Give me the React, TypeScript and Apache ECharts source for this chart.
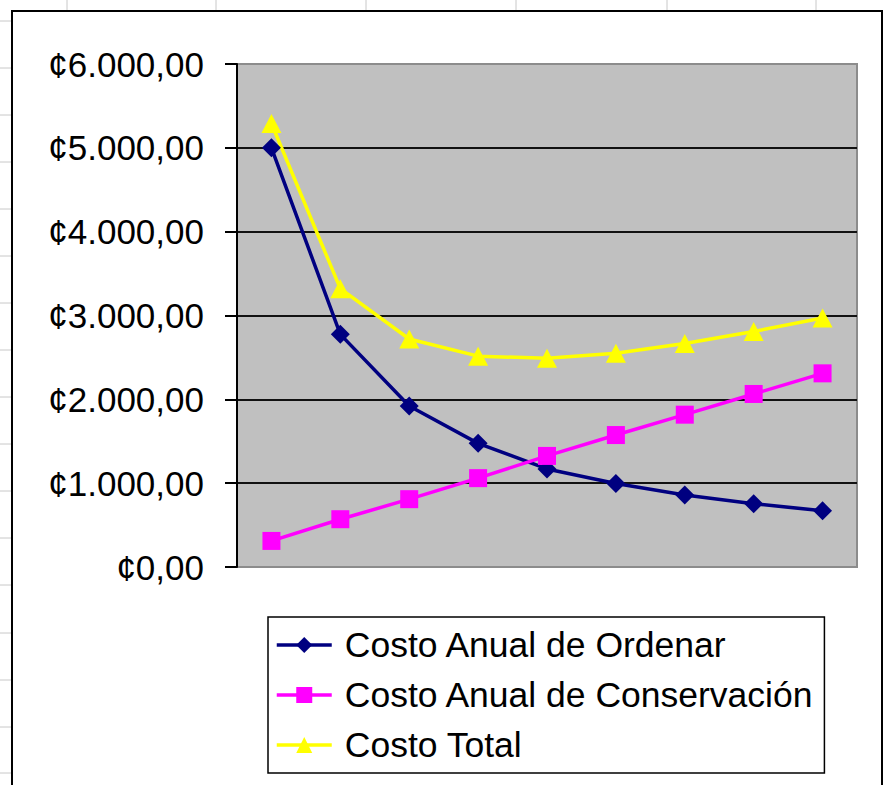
import React, { useEffect, useRef } from "react";
import * as echarts from "echarts";

const categories = ["1", "2", "3", "4", "5", "6", "7", "8", "9"];
const costoOrdenar = [5000, 2775, 1920, 1475, 1170, 995, 860, 755, 670];
const costoConservacion = [311, 570, 809, 1060, 1325, 1574, 1817, 2064, 2310];
const costoTotal = [5290, 3320, 2720, 2515, 2490, 2550, 2665, 2810, 2970];
const seriesNames = [
  "Costo Anual de Ordenar",
  "Costo Anual de Conservación",
  "Costo Total",
];
const yMin = 0;
const yMax = 6000;
const yInterval = 1000;

// decorative spreadsheet grid outside the chart object
const sheetColumnLines = [67, 216, 366, 516, 667, 816];
const sheetRowLines = [21, 68, 115, 162, 209, 256, 303, 350, 397, 444, 491, 538, 585, 633, 680, 727, 773];

const FONT = '"Liberation Sans", Arial, sans-serif';

function formatColones(v: number): string {
  const intPart = Math.round(v).toString().replace(/\B(?=(\d{3})+(?!\d))/g, ".");
  return "¢" + intPart + ",00";
}

export default function App() {
  const ref = useRef<HTMLDivElement>(null);

  useEffect(() => {
    if (!ref.current) return;
    const chart = echarts.init(ref.current, null, { renderer: "svg" });

    const graphics: any[] = [];
    sheetColumnLines.forEach((x) =>
      graphics.push({
        type: "line",
        shape: { x1: x, y1: 0, x2: x, y2: 10 },
        style: { stroke: "#c8c8c8", lineWidth: 1 },
        silent: true,
      })
    );
    sheetRowLines.forEach((y) =>
      graphics.push({
        type: "line",
        shape: { x1: 0, y1: y, x2: 11, y2: y },
        style: { stroke: "#c8c8c8", lineWidth: 1 },
        silent: true,
      })
    );
    graphics.push({
      type: "rect",
      shape: { x: 12, y: 11, width: 870, height: 800 },
      style: { fill: "none", stroke: "#000", lineWidth: 2 },
      silent: true,
    });

    chart.setOption({
      animation: false,
      backgroundColor: "#ffffff",
      textStyle: { fontFamily: FONT },
      graphic: graphics,
      grid: {
        left: 237,
        top: 64,
        right: 28,
        bottom: 218,
        show: true,
        backgroundColor: "#c0c0c0",
        borderColor: "#8c8c8c",
        borderWidth: 2,
      },
      xAxis: {
        type: "category",
        data: categories,
        boundaryGap: true,
        axisLine: { show: false },
        axisTick: { show: false },
        axisLabel: { show: false },
        splitLine: { show: false },
      },
      yAxis: {
        type: "value",
        min: yMin,
        max: yMax,
        interval: yInterval,
        axisLine: { show: true, lineStyle: { color: "#000", width: 2 } },
        axisTick: { show: true, inside: false, length: 12, lineStyle: { color: "#000", width: 2 } },
        axisLabel: {
          margin: 33,
          color: "#000",
          fontSize: 35,
          fontFamily: FONT,
          padding: [0, 0, 5, 0],
          formatter: (v: number) => formatColones(v),
        },
        splitLine: {
          show: true,
          showMinLine: false,
          showMaxLine: false,
          lineStyle: { color: "#111", width: 2 },
        },
      },
      legend: {
        orient: "vertical",
        left: 268,
        top: 617,
        padding: [8, 10, 8, 7],
        itemGap: 10,
        itemWidth: 55,
        itemHeight: 20,
        borderColor: "#000",
        borderWidth: 1.5,
        backgroundColor: "#fff",
        data: seriesNames,
        lineStyle: { width: 3.5 },
        textStyle: {
          fontSize: 35.5,
          fontFamily: FONT,
          color: "#000",
          lineHeight: 40,
          padding: [0, 0, 0, 8],
        },
      },
      series: [
        {
          name: seriesNames[0],
          type: "line",
          data: costoOrdenar,
          symbol: "diamond",
          symbolSize: 19,
          lineStyle: { color: "#000080", width: 3.5 },
          itemStyle: { color: "#000080" },
        },
        {
          name: seriesNames[1],
          type: "line",
          data: costoConservacion,
          symbol: "rect",
          symbolSize: 18,
          lineStyle: { color: "#ff00ff", width: 3.5 },
          itemStyle: { color: "#ff00ff" },
        },
        {
          name: seriesNames[2],
          type: "line",
          data: costoTotal,
          symbol: "triangle",
          symbolSize: [20, 19],
          lineStyle: { color: "#ffff00", width: 3.5 },
          itemStyle: { color: "#ffff00" },
        },
      ],
    });

    return () => chart.dispose();
  }, []);

  return (
    <div
      ref={ref}
      style={{ position: "fixed", left: 0, top: 0, width: 885, height: 785 }}
    />
  );
}
